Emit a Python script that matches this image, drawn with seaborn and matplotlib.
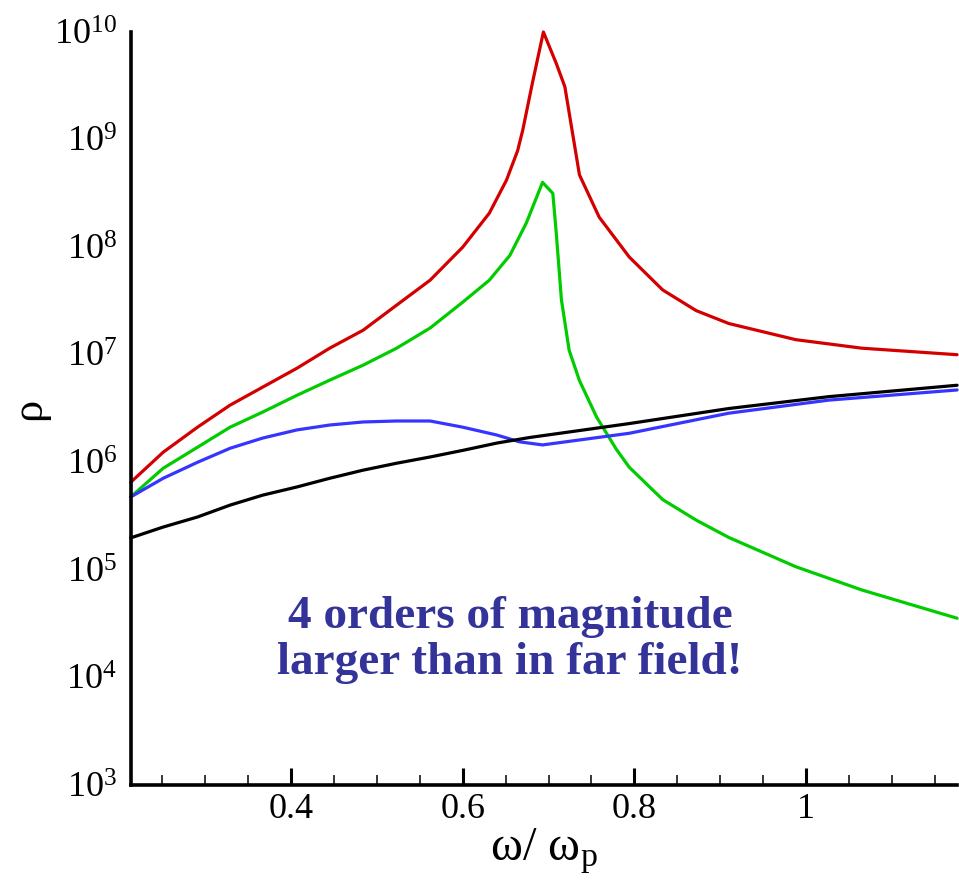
import numpy as np
import pandas as pd
import matplotlib
matplotlib.use("Agg")
import matplotlib.pyplot as plt
import seaborn as sns
from matplotlib.ticker import FixedLocator, LogFormatterMathtext, NullLocator

# Normalised frequency omega / omega_p and LDOS-like quantity rho for four configurations
x_red = [0.213, 0.251, 0.291, 0.329, 0.367, 0.407, 0.445, 0.484, 0.523, 0.562,
         0.600, 0.631, 0.651, 0.664, 0.670, 0.681, 0.694, 0.709, 0.719, 0.736,
         0.759, 0.794, 0.833, 0.872, 0.910, 0.988, 1.065, 1.176]
y_red = [6.5e5, 1.24e6, 2.12e6, 3.4e6, 5.0e6, 7.5e6, 1.15e7, 1.69e7, 2.89e7, 4.93e7,
         1.0e8, 2.07e8, 4.2e8, 7.9e8, 1.23e9, 3.3e9, 1.0e10, 5.1e9, 3.1e9, 4.7e8,
         1.9e8, 8.1e7, 4.0e7, 2.57e7, 1.95e7, 1.38e7, 1.15e7, 1.0e7]

x_green = [0.213, 0.251, 0.291, 0.329, 0.367, 0.407, 0.445, 0.484, 0.523, 0.562,
           0.600, 0.631, 0.655, 0.674, 0.693, 0.705, 0.709, 0.715, 0.724, 0.736,
           0.756, 0.779, 0.794, 0.833, 0.872, 0.910, 0.988, 1.065, 1.176]
y_green = [4.75e5, 8.8e5, 1.38e6, 2.12e6, 2.93e6, 4.2e6, 5.8e6, 8.0e6, 1.15e7, 1.77e7,
           3.08e7, 4.93e7, 8.4e7, 1.67e8, 4.0e8, 3.16e8, 1.35e8, 3.24e7, 1.1e7, 5.75e6,
           2.63e6, 1.32e6, 9.0e5, 4.5e5, 2.9e5, 2.0e5, 1.07e5, 6.5e4, 3.55e4]

x_blue = [0.213, 0.251, 0.291, 0.329, 0.367, 0.407, 0.445, 0.484, 0.523, 0.562,
          0.600, 0.640, 0.666, 0.693, 0.794, 0.910, 1.026, 1.176]
y_blue = [4.75e5, 7.1e5, 1.0e6, 1.35e6, 1.68e6, 2.0e6, 2.22e6, 2.37e6, 2.42e6, 2.42e6,
          2.12e6, 1.79e6, 1.55e6, 1.45e6, 1.86e6, 2.86e6, 3.78e6, 4.7e6]

x_black = [0.213, 0.251, 0.291, 0.329, 0.367, 0.407, 0.445, 0.484, 0.523, 0.562,
           0.600, 0.640, 0.678, 0.794, 0.910, 1.026, 1.176]
y_black = [1.98e5, 2.5e5, 3.1e5, 4.0e5, 4.95e5, 5.9e5, 7.1e5, 8.45e5, 9.8e5, 1.12e6,
           1.29e6, 1.51e6, 1.7e6, 2.29e6, 3.16e6, 4.07e6, 5.2e6]

series = {
    "red": (x_red, y_red),
    "green": (x_green, y_green),
    "blue": (x_blue, y_blue),
    "black": (x_black, y_black),
}
colors = {"red": "#d40000", "green": "#00cc00", "blue": "#3535ff", "black": "#000000"}

x_major = [0.4, 0.6, 0.8, 1.0]
x_major_labels = ["0.4", "0.6", "0.8", "1"]
x_minor = [0.25, 0.3, 0.35, 0.45, 0.5, 0.55, 0.65, 0.7, 0.75,
           0.85, 0.9, 0.95, 1.05, 1.1, 1.15]
y_decades = [1e3, 1e4, 1e5, 1e6, 1e7, 1e8, 1e9, 1e10]

note = "4 orders of magnitude\nlarger than in far field!"

df = pd.concat(
    [pd.DataFrame({"w": xs, "rho": ys, "case": name}) for name, (xs, ys) in series.items()],
    ignore_index=True,
)

sns.set_theme(style="white")
plt.rcParams["font.family"] = ["Liberation Serif", "DejaVu Serif"]
plt.rcParams["mathtext.fontset"] = "custom"
plt.rcParams["mathtext.rm"] = "Liberation Serif"
plt.rcParams["mathtext.it"] = "Liberation Serif:italic"
plt.rcParams["mathtext.bf"] = "Liberation Serif:bold"
for key in ("text.color", "axes.labelcolor", "xtick.color", "ytick.color"):
    plt.rcParams[key] = "black"

fig = plt.figure(figsize=(9.59, 8.89), dpi=100)
ax = fig.add_axes([0.1366, 0.117, 0.8614, 0.847])

sns.lineplot(data=df, x="w", y="rho", hue="case", palette=colors, sort=False,
             estimator=None, linewidth=2.3, legend=False, ax=ax, clip_on=False)

ax.set_yscale("log")
ax.set_xlim(0.2135, 1.176)
ax.set_ylim(1e3, 1e10)

for side in ("top", "right"):
    ax.spines[side].set_visible(False)
for side in ("left", "bottom"):
    ax.spines[side].set_linewidth(2.6)
    ax.spines[side].set_color("black")

ax.xaxis.set_major_locator(FixedLocator(x_major))
ax.set_xticklabels(x_major_labels)
ax.xaxis.set_minor_locator(FixedLocator(x_minor))
ax.tick_params(axis="x", which="major", direction="in", length=12, width=2.2,
               labelsize=26, pad=6, color="black", labelcolor="black", bottom=True)
ax.tick_params(axis="x", which="minor", direction="in", length=7, width=1.1,
               color="black", bottom=True)

ax.yaxis.set_major_locator(FixedLocator(y_decades))
ax.yaxis.set_major_formatter(LogFormatterMathtext())
ax.yaxis.set_minor_locator(NullLocator())
ax.tick_params(axis="y", which="major", length=0, labelsize=26, pad=10,
               labelcolor="black")

ax.set_xlabel("ω/ ω$_\\mathrm{p}$", fontsize=35, labelpad=0, color="black")
ax.set_ylabel("ρ", fontsize=32, labelpad=4, color="black")

ax.text(0.459, 0.193, note, transform=ax.transAxes, ha="center", va="center",
        fontsize=34, fontweight="bold", color="#333399", linespacing=1.12)

fig.savefig("out.png", dpi=100, facecolor="white")
